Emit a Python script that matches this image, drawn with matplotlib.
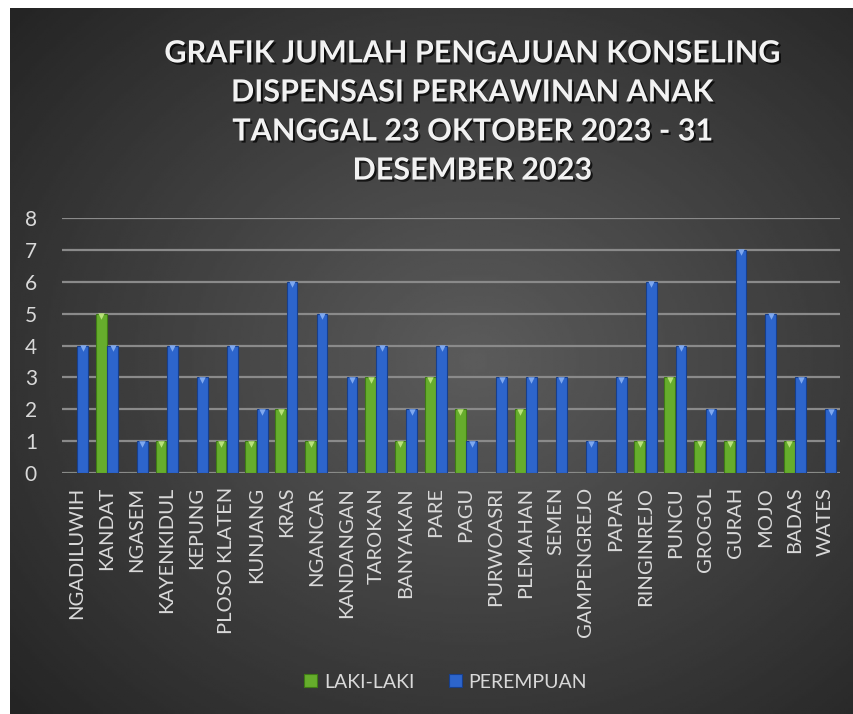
import matplotlib
matplotlib.use("Agg")
import matplotlib.pyplot as plt
import matplotlib.patheffects as pe
import numpy as np

# Data
kecamatan = ["NGADILUWIH", "KANDAT", "NGASEM", "KAYENKIDUL", "KEPUNG", "PLOSO KLATEN",
             "KUNJANG", "KRAS", "NGANCAR", "KANDANGAN", "TAROKAN", "BANYAKAN", "PARE",
             "PAGU", "PURWOASRI", "PLEMAHAN", "SEMEN", "GAMPENGREJO", "PAPAR",
             "RINGINREJO", "PUNCU", "GROGOL", "GURAH", "MOJO", "BADAS", "WATES"]
laki_laki = [0, 5, 0, 1, 0, 1, 1, 2, 1, 0, 3, 1, 3, 2, 0, 2, 0, 0, 0, 1, 3, 1, 1, 0, 1, 0]
perempuan = [4, 4, 1, 4, 3, 4, 2, 6, 5, 3, 4, 2, 4, 1, 3, 3, 3, 1, 3, 6, 4, 2, 7, 5, 3, 2]
y_ticks = [0, 1, 2, 3, 4, 5, 6, 7, 8]
judul = ("GRAFIK JUMLAH PENGAJUAN KONSELING\nDISPENSASI PERKAWINAN ANAK\n"
         "TANGGAL 23 OKTOBER 2023 - 31\nDESEMBER 2023")

plt.rcParams['font.family'] = ['Lato', 'DejaVu Sans']
warna_teks = '#d9d9d9'

fig = plt.figure(figsize=(8.54, 7.14), dpi=100, facecolor='white')

# latar belakang gradien radial
bg = fig.add_axes([10/854, 0, 844/854, 706/714])
yy, xx = np.mgrid[0:1:300j, 0:1:360j]
r = np.sqrt(((xx - 0.55) / 0.75) ** 2 + ((yy - 0.5) / 0.75) ** 2)
grad = np.clip(0.36 - 0.22 * r, 0.14, 0.36)
bg.imshow(grad, cmap='gray', vmin=0, vmax=1, extent=[0, 1, 0, 1], aspect='auto')
bg.axis('off')

ax = fig.add_axes([62/854, 1 - 473/714, 778/854, 255/714])
ax.patch.set_alpha(0)
x = np.arange(len(kecamatan))
w = 0.36
ax.bar(x - 0.19, laki_laki, w, color='#66ad2c', edgecolor='#3f7a16', linewidth=0.8,
       label='LAKI-LAKI', zorder=3)
ax.bar(x + 0.19, perempuan, w, color='#2d65cc', edgecolor='#173f8c', linewidth=0.8,
       label='PEREMPUAN', zorder=3)
# segitiga highlight di puncak batang
lk = np.array(laki_laki)
pr = np.array(perempuan)
ax.scatter((x - 0.19)[lk > 0], lk[lk > 0] - 0.08, marker='v', s=22, color='#b8e07a', zorder=4, linewidths=0)
ax.scatter((x + 0.19)[pr > 0], pr[pr > 0] - 0.08, marker='v', s=22, color='#7fa8ee', zorder=4, linewidths=0)

ax.set_xlim(-0.5, len(kecamatan) - 0.5)
ax.set_ylim(0, 8)
ax.set_yticks(y_ticks)
ax.set_xticks(x)
ax.set_xticklabels(kecamatan, rotation=90, fontsize=14.5, color=warna_teks)
ax.tick_params(axis='y', labelsize=15, colors=warna_teks, length=0, pad=18)
ax.tick_params(axis='x', length=0, pad=10)
ax.grid(axis='y', color='#8a8a8a', linewidth=1.6, zorder=0)
for s in ax.spines.values():
    s.set_visible(False)

fig.text(0.553, 1 - 112/714, judul, ha='center', va='center', fontsize=22,
         fontweight='bold', color='#f2f2f2', linespacing=1.48,
         path_effects=[pe.withSimplePatchShadow(offset=(1.5, -1.5), shadow_rgbFace='black', alpha=0.7)])

leg = fig.legend(loc='center', bbox_to_anchor=(0.522, 1 - 682/714), ncol=2, frameon=False,
                 fontsize=14, handlelength=0.65, handleheight=0.65, columnspacing=1.8,
                 handletextpad=0.35)
for t in leg.get_texts():
    t.set_color(warna_teks)

fig.savefig('out.png', dpi=100, facecolor='white')
